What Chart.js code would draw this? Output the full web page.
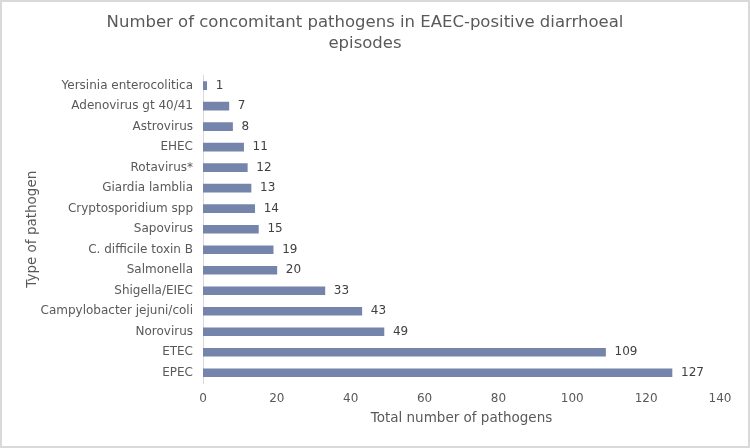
<!DOCTYPE html>
<html>
<head>
<meta charset="utf-8">
<script src="https://cdn.jsdelivr.net/npm/chart.js@4"></script>
<style>
body{margin:0;background:#fff;}
#wrap{width:750px;height:448px;position:relative;}
</style>
</head>
<body>
<div id="wrap"><canvas id="pathogenChart" width="750" height="448"></canvas></div>
<script>

/* ============================= */
/* DATA */
/* ============================= */

const pathogens = [
"Yersinia enterocolitica",
"Adenovirus gt 40/41",
"Astrovirus",
"EHEC",
"Rotavirus*",
"Giardia lamblia",
"Cryptosporidium spp",
"Sapovirus",
"C. difficile toxin B",
"Salmonella",
"Shigella/EIEC",
"Campylobacter jejuni/coli",
"Norovirus",
"ETEC",
"EPEC"
]

const counts = [1,7,8,11,12,13,14,15,19,20,33,43,49,109,127]

const titleLines = ["Number of concomitant pathogens in EAEC-positive diarrhoeal","episodes"]
const xTitle = "Total number of pathogens"
const yTitle = "Type of pathogen"

const FONT = "'DejaVu Sans', Verdana, sans-serif"


/* ============================= */
/* PLUGINS */
/* ============================= */

const frame = {
id:"frame",
beforeDraw(chart){
const ctx = chart.ctx
ctx.save()
ctx.fillStyle = "#fff"
ctx.fillRect(0,0,chart.width,chart.height)
ctx.strokeStyle = "#d9d9d9"
ctx.lineWidth = 2
ctx.strokeRect(1,1,chart.width-2,chart.height-2)
ctx.restore()
}
}

const valueLabels = {
id:"valueLabels",
afterDatasetsDraw(chart){
const ctx = chart.ctx
const meta = chart.getDatasetMeta(0)
ctx.save()
ctx.font = "12px " + FONT
ctx.fillStyle = "#404040"
ctx.textAlign = "left"
ctx.textBaseline = "middle"
meta.data.forEach((bar,i)=>{
ctx.fillText(String(counts[i]), bar.x + 9, bar.y)
})
ctx.restore()
}
}


/* ============================= */
/* CHART */
/* ============================= */

const pathogenChart = new Chart(
document.getElementById("pathogenChart"),
{
type:"bar",

data:{
labels:pathogens,
datasets:[
{
data:counts,
backgroundColor:"#7484aa",
barThickness:8
}
]
},

options:{
indexAxis:"y",
animation:false,
responsive:false,
layout:{
padding:{left:10,right:30,top:0,bottom:8}
},

plugins:{
legend:{display:false},
tooltip:{enabled:false},
title:{
display:true,
text:titleLines,
color:"#595959",
font:{family:FONT,size:16.5,weight:"normal",lineHeight:1.27},
padding:{top:12,bottom:21.5}
}
},

scales:{
x:{
min:0,
max:140,
ticks:{
stepSize:20,
color:"#595959",
padding:9,
font:{family:FONT,size:12}
},
grid:{display:false,drawTicks:false},
border:{display:false},
title:{
display:true,
text:xTitle,
color:"#595959",
font:{family:FONT,size:13.5},
padding:{top:0,bottom:13.5}
},
afterFit(scale){ scale.height = 57 }
},
y:{
ticks:{
color:"#595959",
padding:10,
font:{family:FONT,size:12},
autoSkip:false
},
grid:{display:false,drawTicks:false},
border:{display:true,color:"#d9d9d9",width:1},
title:{
display:true,
text:yTitle,
color:"#595959",
font:{family:FONT,size:13.5},
padding:{top:14,bottom:0}
},
afterFit(scale){ scale.width = 193 }
}
}
},

plugins:[frame,valueLabels]
});

</script>
</body>
</html>
